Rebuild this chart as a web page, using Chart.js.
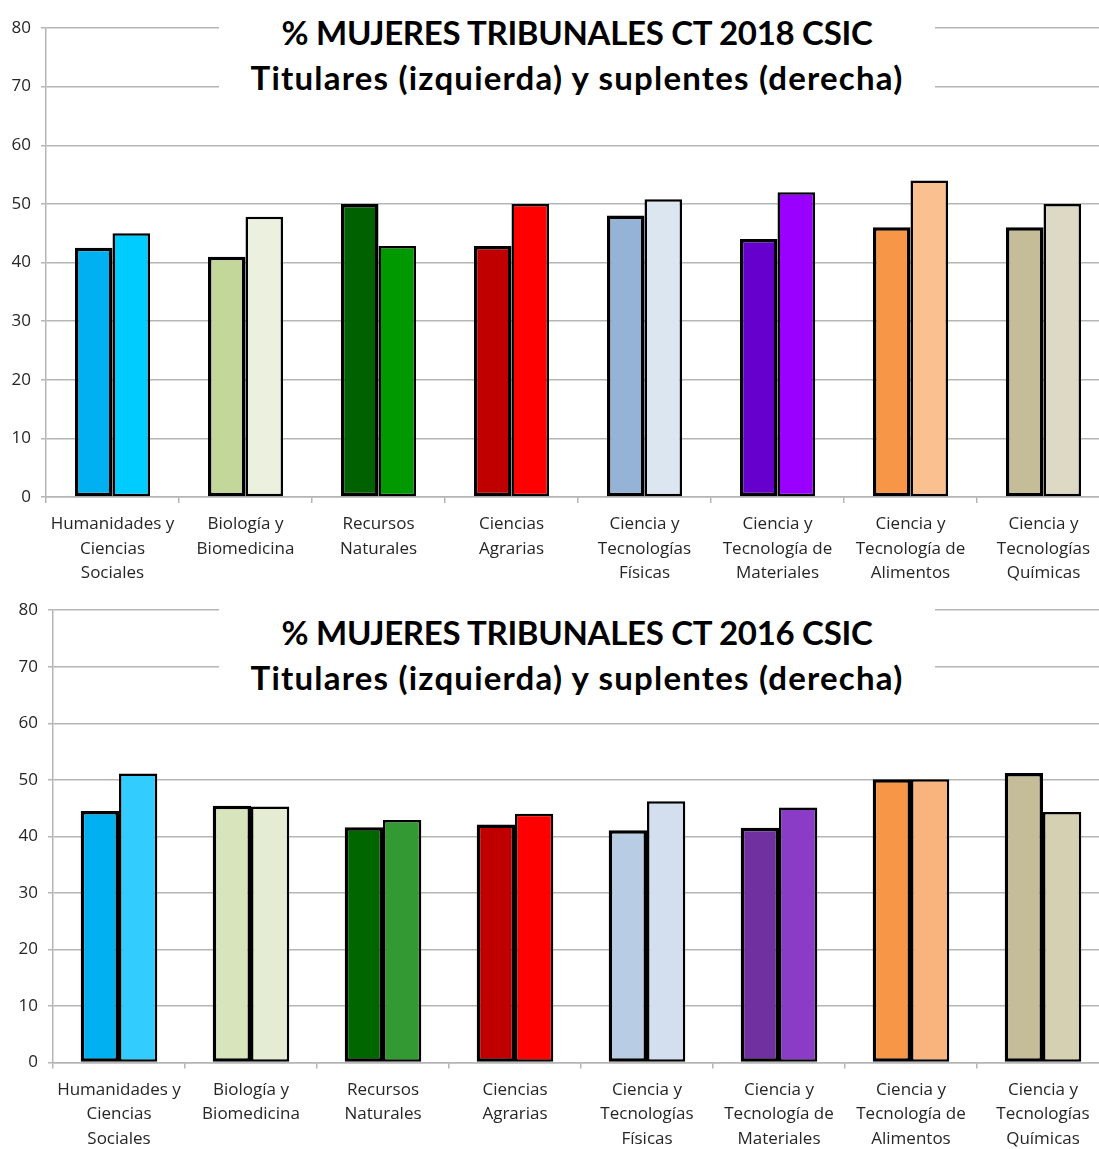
<!DOCTYPE html>
<html>
<head>
<meta charset="utf-8">
<script src="https://cdn.jsdelivr.net/npm/chart.js@4.4.1/dist/chart.umd.min.js"></script>
<style>
  body { margin: 0; background: #fff; overflow: hidden; width: 1099px; height: 1149px; position: relative; }
  .caja { position: absolute; left: 0; }
  .titulo {
    position: absolute; left: 219px; width: 716px; height: 90px; padding-top: 10px;
    background: #fff; text-align: center; color: #000; white-space: nowrap;
    font-family: Lato, sans-serif; font-weight: bold; font-size: 33px; line-height: 45px;
  }
  .l1 { letter-spacing: -0.3px; }
  .l2 { letter-spacing: 1.2px; }
</style>
</head>
<body>

<div class="caja" style="top:0"><canvas id="chart2018" width="1112" height="590"></canvas></div>
<div class="caja" style="top:590px"><canvas id="chart2016" width="1112" height="559"></canvas></div>

<div class="titulo" style="top:0"><span class="l1">% MUJERES TRIBUNALES CT 2018 CSIC</span><br><span class="l2">Titulares (izquierda) y suplentes (derecha)</span></div>
<div class="titulo" style="top:600px"><span class="l1">% MUJERES TRIBUNALES CT 2016 CSIC</span><br><span class="l2">Titulares (izquierda) y suplentes (derecha)</span></div>

<script>
// areas (multi-line labels)
const categorias = [
  ['Humanidades y', 'Ciencias', 'Sociales'],
  ['Biología y', 'Biomedicina'],
  ['Recursos', 'Naturales'],
  ['Ciencias', 'Agrarias'],
  ['Ciencia y', 'Tecnologías', 'Físicas'],
  ['Ciencia y', 'Tecnología de', 'Materiales'],
  ['Ciencia y', 'Tecnología de', 'Alimentos'],
  ['Ciencia y', 'Tecnologías', 'Químicas']
];

// % mujeres, 2018
const titulares2018 = [42.5, 41, 50, 42.8, 48, 44, 46, 46];
const suplentes2018 = [45, 47.8, 42.8, 50, 50.8, 52, 54, 50];

// % mujeres, 2016
const titulares2016 = [44.5, 45.4, 41.6, 42.1, 41.1, 41.5, 50.1, 51.2];
const suplentes2016 = [51.1, 45.3, 42.9, 44, 46.2, 45.1, 50.1, 44.3];

const yTicks = [0, 10, 20, 30, 40, 50, 60, 70, 80];

// colours, one per area
const colTit2018 = ['#00B0F0', '#C4D79B', '#006100', '#C00000', '#95B3D7', '#6600CC', '#F79646', '#C4BD97'];
const colSup2018 = ['#00CCFF', '#EBF1DE', '#009900', '#FF0000', '#DCE6F1', '#9900FF', '#FAC090', '#DDD9C4'];
const colTit2016 = ['#00B0F0', '#D8E4BC', '#006600', '#C00000', '#B8CCE4', '#7030A0', '#F79646', '#C4BD97'];
const colSup2016 = ['#33CCFF', '#E4ECD4', '#339933', '#FF0000', '#D3DFEE', '#8B3CC6', '#F9B47E', '#D6D0B2'];

const gris = '#b5b5b5';
const fuente = { family: 'Open Sans', size: 17 };

function makeChart(domId, tit, sup, colT, colS, yWidth, xHeight, topPad, rightPad, catPct) {
  const data = {
    labels: categorias,
    datasets: [
      { label: 'Titulares', data: tit, backgroundColor: colT, borderColor: '#000', borderWidth: 3.5, borderSkipped: false },
      { label: 'Suplentes', data: sup, backgroundColor: colS, borderColor: '#000', borderWidth: 2.5, borderSkipped: false }
    ]
  };

  const config = {
    type: 'bar',
    data,
    options: {
      responsive: false,
      animation: false,
      datasets: { bar: { barPercentage: 1, categoryPercentage: catPct } },
      layout: { padding: { top: topPad, right: rightPad, left: 0, bottom: 0 } },
      plugins: { legend: { display: false }, tooltip: { enabled: false } },
      scales: {
        x: {
          grid: { display: true, drawOnChartArea: false, drawTicks: true, tickLength: 6, color: gris, lineWidth: 1.5 },
          border: { display: true, color: gris, width: 1.5 },
          ticks: { color: '#262626', font: { ...fuente, lineHeight: 1.45 }, padding: 9, maxRotation: 0, autoSkip: false },
          afterFit: (scale) => { scale.height = xHeight; }
        },
        y: {
          min: 0, max: 80,
          afterBuildTicks: (scale) => { scale.ticks = yTicks.map(v => ({ value: v })); },
          grid: { color: gris, lineWidth: 1.5, tickLength: 5 },
          border: { display: true, color: gris, width: 1.5 },
          ticks: { color: '#262626', font: fuente, padding: 10 },
          afterFit: (scale) => { scale.width = yWidth; }
        }
      }
    }
  };

  const ctx = document.getElementById(domId).getContext('2d');
  return new Chart(ctx, config);
}

makeChart('chart2018', titulares2018, suplentes2018, colTit2018, colSup2018, 46, 93, 28, 2, 0.565);
makeChart('chart2016', titulares2016, suplentes2016, colTit2016, colSup2016, 53, 86.5, 20, 3, 0.58);
</script>
</body>
</html>
